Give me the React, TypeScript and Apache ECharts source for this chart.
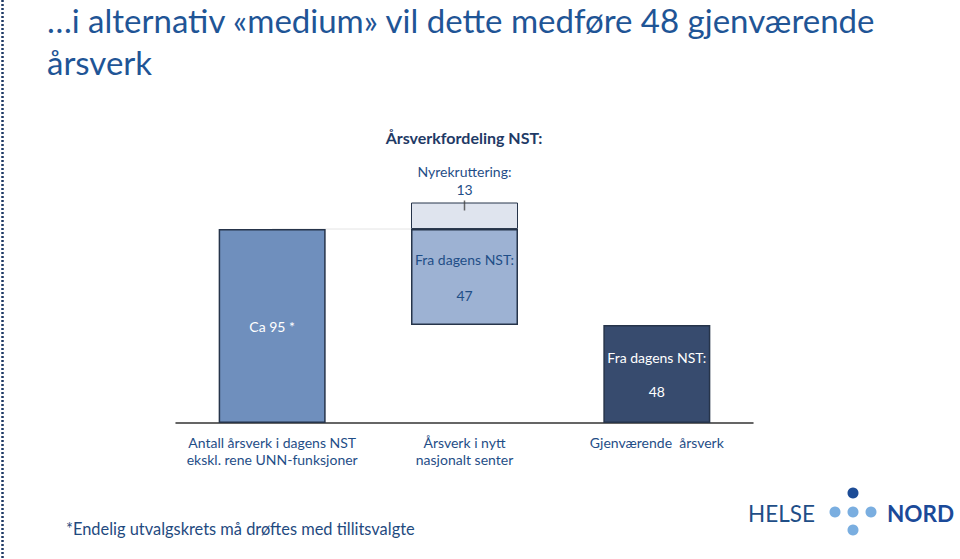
import React, { useEffect, useRef } from "react";
import * as echarts from "echarts";

const categories = [
  "Antall årsverk i dagens NST\nekskl. rene UNN-funksjoner",
  "Årsverk i nytt\nnasjonalt senter",
  "Gjenværende  årsverk",
];
// waterfall: invisible base, main segment, recruitment segment
const baseValues = [0, 48, 0];
const mainValues = [95, 47, 48];
const recruitValues: (number | null)[] = [null, 13, null];
const mainLabels = ["Ca 95 *", "Fra dagens NST:\n\n47", "Fra dagens NST:\n\n48"];
const recruitLabel = "Nyrekruttering:\n13";
const connectorValues: (number | null)[] = [95, 95, null];

const FONT = "Lato, 'Noto Sans', sans-serif";
const TEXT_BLUE = "#1f4e87";
const BORDER = "#26344a";
const barColors = ["#6f8fbd", "#9db2d3", "#374b6e"];
const labelColors = ["#ffffff", TEXT_BLUE, "#ffffff"];

export default function App() {
  const ref = useRef<HTMLDivElement>(null);
  useEffect(() => {
    if (!ref.current) return;
    const chart = echarts.init(ref.current, undefined, { renderer: "svg" });
    chart.setOption({
      animation: false,
      backgroundColor: "#ffffff",
      textStyle: { fontFamily: FONT },
      title: {
        text: "…i alternativ «medium» vil dette medføre 48 gjenværende\nårsverk",
        left: 42,
        top: -6,
        textStyle: {
          fontFamily: FONT,
          fontSize: 33,
          fontWeight: "normal",
          color: "#1f5596",
          lineHeight: 42,
        },
      },
      grid: { left: 176, right: 207, top: 178, bottom: 136 },
      xAxis: {
        type: "category",
        data: categories,
        axisTick: { show: false },
        axisLine: { lineStyle: { color: "#333333", width: 1.5 } },
        axisLabel: {
          interval: 0,
          color: TEXT_BLUE,
          fontSize: 14,
          lineHeight: 17,
          margin: 11,
          fontFamily: FONT,
        },
      },
      yAxis: {
        type: "value",
        min: 0,
        max: 120,
        show: false,
        splitLine: { show: false },
      },
      series: [
        {
          type: "line",
          data: connectorValues,
          symbol: "none",
          z: 1,
          lineStyle: { color: "#e4e4e4", width: 1 },
          silent: true,
        },
        {
          type: "bar",
          stack: "w",
          barWidth: 107,
          data: baseValues,
          itemStyle: { color: "transparent" },
          silent: true,
        },
        {
          type: "bar",
          stack: "w",
          barWidth: 107,
          data: mainValues.map((v, i) => ({
            value: v,
            itemStyle: { color: barColors[i], borderColor: BORDER, borderWidth: 1.5 },
            label: {
              show: true,
              position: "inside",
              formatter: mainLabels[i],
              color: labelColors[i],
              fontSize: 14,
              lineHeight: i === 1 ? 18 : 17,
              fontFamily: FONT,
            },
          })),
        },
        {
          type: "bar",
          stack: "w",
          barWidth: 107,
          data: recruitValues,
          itemStyle: { color: "#dfe4ee", borderColor: BORDER, borderWidth: 1 },
          label: {
            show: true,
            position: "top",
            distance: 4,
            formatter: recruitLabel,
            color: TEXT_BLUE,
            fontSize: 14,
            lineHeight: 18,
            fontFamily: FONT,
          },
        },
        {
          type: "scatter",
          data: [[1, 108]],
          symbol: "rect",
          symbolSize: [1.5, 10],
          symbolOffset: [0, 3],
          itemStyle: { color: "#444444" },
          z: 5,
          silent: true,
        },
      ],
      graphic: [
        {
          type: "line",
          shape: { x1: 2.5, y1: 0, x2: 2.5, y2: 559 },
          style: { stroke: "#1f3a66", lineWidth: 2.5, lineDash: [2, 2] },
        },
        {
          type: "text",
          x: 464,
          y: 137,
          style: {
            text: "Årsverkfordeling NST:",
            fontFamily: FONT,
            fontSize: 16,
            fontWeight: "bold",
            fill: "#1f3a66",
            align: "center",
            verticalAlign: "middle",
          },
        },
        {
          type: "text",
          x: 66,
          y: 528,
          style: {
            text: "*Endelig utvalgskrets må drøftes med tillitsvalgte",
            fontFamily: FONT,
            fontSize: 16.4,
            fill: "#1f4a80",
            verticalAlign: "middle",
          },
        },
        {
          type: "text",
          x: 748,
          y: 513,
          style: {
            text: "HELSE",
            fontFamily: FONT,
            fontSize: 22.5,
            fill: "#1f4e87",
            verticalAlign: "middle",
          },
        },
        {
          type: "text",
          x: 887,
          y: 513,
          style: {
            text: "NORD",
            fontFamily: FONT,
            fontSize: 22.5,
            fontWeight: "bold",
            fill: "#1b4a99",
            verticalAlign: "middle",
          },
        },
        { type: "circle", shape: { cx: 853, cy: 493, r: 5.5 }, style: { fill: "#1d4c96" } },
        { type: "circle", shape: { cx: 835, cy: 512, r: 5.5 }, style: { fill: "#7aaee0" } },
        { type: "circle", shape: { cx: 853, cy: 512, r: 5.5 }, style: { fill: "#7aaee0" } },
        { type: "circle", shape: { cx: 871, cy: 512, r: 5.5 }, style: { fill: "#7aaee0" } },
        { type: "circle", shape: { cx: 853, cy: 530, r: 5.5 }, style: { fill: "#7aaee0" } },
      ],
    });
    return () => chart.dispose();
  }, []);
  return (
    <div
      ref={ref}
      style={{ position: "fixed", left: 0, top: 0, width: 960, height: 559 }}
    />
  );
}
